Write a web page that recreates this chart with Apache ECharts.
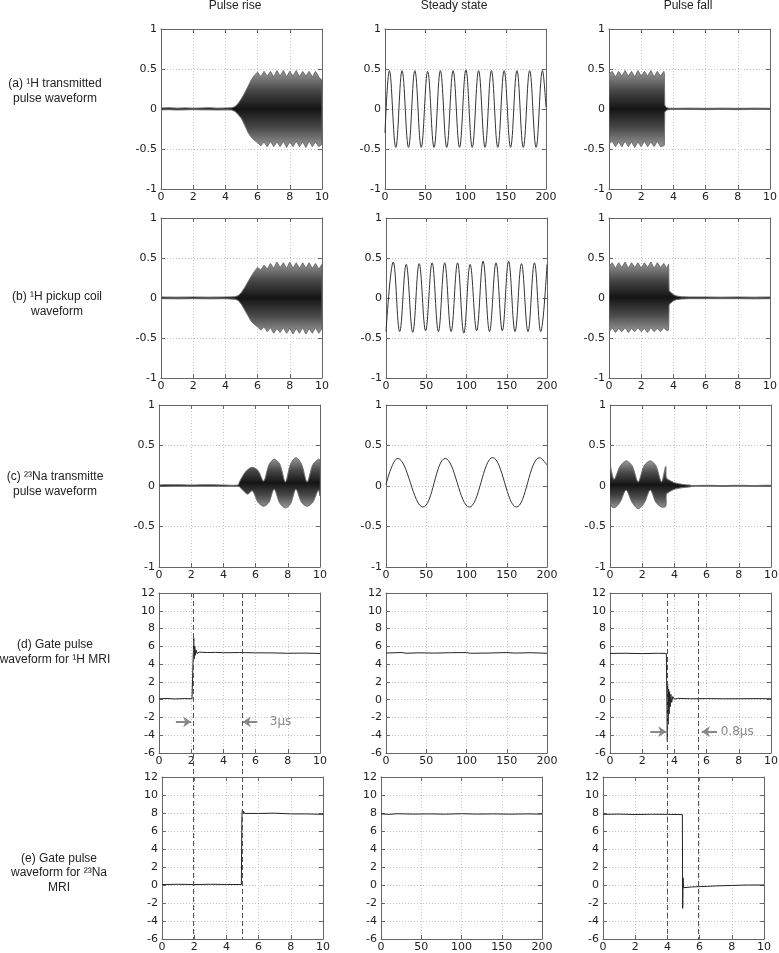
<!DOCTYPE html>
<html>
<head>
<meta charset="utf-8">
<title>Pulse waveforms</title>
<script src="https://cdn.jsdelivr.net/npm/echarts@6/dist/echarts.min.js"></script>
<style>
    html, body { margin: 0; padding: 0; background: #fff; }
    #chart { width: 779px; height: 953px; }
</style>
</head>
<body>
<div id="chart"></div>
<script>
// column / row texts
var colTitles = ['Pulse rise', 'Steady state', 'Pulse fall'];
var rowLabels = [
    '(a) ¹H transmitted\npulse waveform',
    '(b) ¹H pickup coil\nwaveform',
    '(c) ²³Na transmitte\npulse waveform',
    '(d) Gate pulse\nwaveform for ¹H MRI',
    '(e) Gate pulse\nwaveform for ²³Na\nMRI'
];

// dense RF bursts: [time, upper edge, lower edge]
var aRise = [[0,0.012,-0.01],[0.5,0.015,-0.008],[1,0.01,-0.012],[1.5,0.014,-0.01],[2,0.01,-0.008],[2.5,0.012,-0.01],
    [3,0.015,-0.01],[3.5,0.01,-0.012],[4,0.012,-0.01],[4.4,0.015,-0.012],[4.6,0.03,-0.03],[4.8,0.07,-0.07],
    [5.0,0.13,-0.12],[5.2,0.2,-0.2],[5.4,0.28,-0.29],[5.6,0.36,-0.35],[5.8,0.42,-0.39],[6.0,0.46,-0.42],
    [6.2,0.40,-0.46],[6.4,0.47,-0.41],[6.6,0.41,-0.47],[6.8,0.47,-0.40],[7.0,0.40,-0.47],[7.2,0.48,-0.41],
    [7.4,0.41,-0.47],[7.6,0.48,-0.40],[7.8,0.40,-0.48],[8.0,0.47,-0.41],[8.2,0.41,-0.47],[8.4,0.48,-0.40],
    [8.6,0.40,-0.47],[8.8,0.47,-0.41],[9.0,0.41,-0.48],[9.2,0.47,-0.40],[9.4,0.40,-0.47],[9.6,0.47,-0.41],
    [9.8,0.40,-0.47],[10,0.36,-0.44]];
var aFall = [[0,0.44,-0.44],[0.2,0.47,-0.40],[0.4,0.40,-0.47],[0.6,0.47,-0.41],[0.8,0.41,-0.47],[1.0,0.48,-0.40],
    [1.2,0.41,-0.47],[1.4,0.47,-0.41],[1.6,0.40,-0.48],[1.8,0.48,-0.41],[2.0,0.41,-0.47],[2.2,0.47,-0.40],
    [2.4,0.41,-0.47],[2.6,0.48,-0.41],[2.8,0.40,-0.47],[3.0,0.47,-0.40],[3.2,0.41,-0.47],[3.4,0.47,-0.46],
    [3.44,0.44,-0.45],[3.46,0.05,-0.04],[3.55,0.02,-0.015],[3.7,0.01,-0.008],[4,0.008,-0.006],[5,0.01,-0.006],
    [6,0.008,-0.008],[7,0.01,-0.006],[8,0.008,-0.008],[9,0.01,-0.006],[10,0.008,-0.006]];
var bRise = [[0,0.012,-0.008],[1,0.01,-0.01],[2,0.012,-0.008],[3,0.01,-0.01],[4,0.012,-0.008],[4.6,0.015,-0.015],
    [4.8,0.03,-0.03],[5.0,0.07,-0.08],[5.2,0.13,-0.15],[5.4,0.2,-0.22],[5.6,0.27,-0.29],[5.8,0.33,-0.33],
    [6.0,0.38,-0.36],[6.2,0.35,-0.40],[6.4,0.41,-0.36],[6.6,0.36,-0.42],[6.8,0.43,-0.37],[7.0,0.37,-0.44],
    [7.2,0.45,-0.38],[7.4,0.38,-0.43],[7.6,0.44,-0.37],[7.8,0.37,-0.44],[8.0,0.45,-0.38],[8.2,0.37,-0.45],
    [8.4,0.44,-0.38],[8.6,0.37,-0.44],[8.8,0.44,-0.37],[9.0,0.37,-0.45],[9.2,0.44,-0.38],[9.4,0.37,-0.44],
    [9.6,0.43,-0.37],[9.8,0.36,-0.44],[10,0.42,-0.38]];
var bFall = [[0,0.40,-0.43],[0.2,0.44,-0.37],[0.4,0.37,-0.43],[0.6,0.44,-0.38],[0.8,0.38,-0.42],[1.0,0.45,-0.37],
    [1.2,0.37,-0.43],[1.4,0.44,-0.38],[1.6,0.38,-0.42],[1.8,0.44,-0.37],[2.0,0.37,-0.42],[2.2,0.44,-0.38],
    [2.4,0.38,-0.43],[2.6,0.45,-0.37],[2.8,0.37,-0.42],[3.0,0.44,-0.38],[3.2,0.38,-0.42],[3.4,0.43,-0.37],
    [3.6,0.37,-0.41],[3.7,0.42,-0.40],[3.73,0.09,-0.08],[3.85,0.07,-0.06],[4.0,0.04,-0.035],[4.2,0.025,-0.02],
    [4.5,0.015,-0.012],[5,0.012,-0.008],[6,0.012,-0.008],[7,0.01,-0.008],[8,0.012,-0.008],[9,0.01,-0.01],
    [10,0.012,-0.008]];
var cRise = [[0,0.012,-0.005],[1,0.015,-0.004],[2,0.012,-0.005],[3,0.015,-0.004],[4,0.012,-0.005],[4.9,0.012,-0.005],
    [5.0,0.05,-0.01],[5.25,0.14,-0.06],[5.5,0.2,-0.1],[5.8,0.23,-0.06],[6.15,0.19,-0.2],[6.5,0.06,-0.25],
    [6.83,0.26,-0.2],[7.15,0.33,-0.04],[7.5,0.27,-0.21],[7.85,0.05,-0.27],[8.17,0.27,-0.22],[8.5,0.35,-0.04],
    [8.85,0.27,-0.2],[9.2,0.05,-0.25],[9.55,0.26,-0.2],[9.9,0.33,-0.05],[10,0.32,-0.12]];
var cFall = [[0,0.25,-0.22],[0.25,0.08,-0.27],[0.62,0.24,-0.2],[1.0,0.31,-0.05],[1.37,0.25,-0.2],[1.75,0.05,-0.28],
    [2.12,0.25,-0.21],[2.5,0.31,-0.05],[2.85,0.25,-0.2],[3.2,0.05,-0.26],[3.46,0.24,-0.25],[3.5,0.1,-0.1],
    [3.7,0.07,-0.07],[4.0,0.04,-0.04],[4.5,0.02,-0.02],[5.0,0.01,-0.01],[5.1,0.006,-0.004],[6,0.008,-0.004],
    [7,0.006,-0.006],[8,0.008,-0.004],[9,0.006,-0.006],[10,0.008,-0.004]];

// steady state sine: extremes [time, value]
var aSteady = [[0,-0.3],[5.5,0.48],[13.4,-0.48],[21.2,0.48],[29.2,-0.48],[37.1,0.48],[45,-0.48],[53,0.47],
    [60.9,-0.48],[68.8,0.48],[76.7,-0.48],[84.6,0.48],[92.6,-0.48],[100.5,0.49],[108.4,-0.48],[116.3,0.48],
    [124.3,-0.48],[132.2,0.48],[140.1,-0.48],[148,0.48],[156,-0.48],[163.9,0.48],[171.8,-0.48],[179.7,0.48],
    [187.7,-0.48],[195.6,0.48],[200,0.02]];
var bSteady = [[0,-0.42],[9,0.45],[17,-0.42],[25.1,0.42],[33.2,-0.43],[41.2,0.43],[49.2,-0.41],[57.3,0.44],
    [65.1,-0.42],[72.9,0.44],[80.9,-0.42],[88.9,0.44],[96.7,-0.44],[104.5,0.42],[112.6,-0.41],[120.6,0.46],
    [128.6,-0.42],[136.7,0.44],[144.5,-0.41],[152.3,0.46],[160.3,-0.42],[168.3,0.43],[176.4,-0.42],[184.4,0.44],
    [192.2,-0.42],[200,0.42]];
var cSteady = [[0,0.02],[14.5,0.34],[46,-0.26],[73.5,0.34],[103.5,-0.26],[132.5,0.35],[162,-0.26],[191,0.35],[200,0.26]];

// gate pulses [time, volts]
var dRise = [[0,0.1],[0.5,0.13],[1,0.08],[1.5,0.12],[2.05,0.1],[2.1,0.3],[2.13,5.2],[2.16,6.9],[2.19,4.6],
    [2.22,6.0],[2.26,5.0],[2.3,5.6],[2.36,5.2],[2.5,5.35],[3,5.3],[3.5,5.32],[4,5.28],[5,5.3],[6,5.27],
    [7,5.26],[8,5.22],[9,5.24],[10,5.2]];
var dSteady = [[0,5.25],[20,5.3],[25,5.22],[40,5.27],[60,5.24],[80,5.28],[100,5.3],[105,5.22],[130,5.25],
    [150,5.3],[160,5.24],[180,5.28],[200,5.22]];
var dFall = [[0,5.2],[1,5.22],[2,5.18],[3,5.22],[3.5,5.2],[3.54,5.0],[3.56,-4.7],[3.58,1.8],[3.61,-2.8],
    [3.64,1.2],[3.67,-1.6],[3.7,0.9],[3.74,-0.8],[3.78,0.6],[3.83,-0.3],[3.9,0.35],[4.0,0.05],[4.2,0.15],
    [5,0.1],[6,0.12],[7,0.1],[8,0.1],[9,0.12],[10,0.1]];
var eRise = [[0,0.05],[1,0.08],[2,0.05],[3,0.08],[4,0.06],[4.93,0.05],[4.96,7.5],[4.99,8.4],[5.03,7.9],
    [5.07,8.2],[5.12,7.95],[5.2,8.05],[6,7.95],[7,7.98],[8,7.9],[9,7.9],[10,7.85]];
var eSteady = [[0,7.9],[10,7.85],[20,7.92],[40,7.88],[60,7.9],[80,7.87],[100,7.92],[120,7.88],[140,7.9],
    [160,7.87],[180,7.9],[200,7.88]];
var eFall = [[0,7.85],[1,7.88],[2,7.83],[3,7.86],[4,7.85],[4.93,7.82],[4.95,-2.6],[4.97,0.8],[5.0,-0.3],
    [5.05,-0.15],[5.5,-0.22],[6,-0.18],[6.5,-0.15],[7,-0.1],[8,-0.05],[9,0.0],[10,0.0]];

// timing annotations on the gate rows
var dRiseArrows = [[1.05, 2.0, -2.5], [6.1, 5.2, -2.5]];
var dRiseNote = [7.55, -2.5, '3µs'];
var dFallArrows = [[2.5, 3.5, -3.6], [6.65, 5.7, -3.6]];
var dFallNote = [7.9, -3.6, '0.8µs'];
var gateDashes = [[0, 2.1], [0, 5.15], [2, 3.57], [2, 5.48]];   // [column, time on row (d)]

var panels = [
    {band: aRise}, {line: aSteady, smooth: 0.4}, {band: aFall},
    {band: bRise}, {line: bSteady, smooth: 0.4}, {band: bFall},
    {band: cRise, smooth: 0.3}, {line: cSteady, smooth: 0.4}, {band: cFall, smooth: 0.3},
    {line: dRise}, {line: dSteady}, {line: dFall},
    {line: eRise}, {line: eSteady}, {line: eFall}
];

// layout
var rowTop = [29, 218, 405, 593, 777];
var rowHeight = [160, 160, 162, 160, 162];
var colLeft = [[161, 385, 609], [161, 386, 609], [159, 386, 610], [159, 386, 610], [162, 381, 603]];
var plotWidth = 161;
var frame = '#666';

var chart = echarts.init(document.getElementById('chart'));

function bandFill() {
    return new echarts.graphic.LinearGradient(0, 0, 0, 1, [
        {offset: 0, color: '#9a9a9a'},
        {offset: 0.25, color: '#4a4a4a'},
        {offset: 0.5, color: '#141414'},
        {offset: 0.75, color: '#4a4a4a'},
        {offset: 1, color: '#9a9a9a'}
    ]);
}

function makeAxis(dim, i, pos, range, main) {
    return {
        type: 'value', gridIndex: i, position: pos,
        min: range[0], max: range[1], interval: range[2],
        axisLine: {show: true, onZero: false, lineStyle: {color: frame, width: 1}},
        axisTick: {show: true, inside: true, length: 4, lineStyle: {color: frame}},
        axisLabel: {show: main, margin: dim === 'x' ? 3 : 4, fontSize: 11, fontFamily: 'DejaVu Sans', color: '#222'},
        splitLine: {show: main, lineStyle: {color: '#c4c4c4', type: [1, 2], width: 1}}
    };
}

// the burst is drawn as one polygon: upper edge left to right, lower edge back
function bandSeries(i, band, smooth) {
    return {
        type: 'custom', xAxisIndex: 2 * i, yAxisIndex: 2 * i, silent: true, clip: true,
        data: [[0, 0]],
        renderItem: function (params, api) {
            var upper = band.map(function (d) { return api.coord([d[0], d[1]]); });
            var lower = band.slice().reverse().map(function (d) { return api.coord([d[0], d[2]]); });
            return {
                type: 'polygon',
                shape: {points: upper.concat(lower), smooth: smooth || 0},
                style: {fill: bandFill(), stroke: '#666', lineWidth: 0.6}
            };
        }
    };
}

var grids = [], xAxes = [], yAxes = [], series = [];

panels.forEach(function (p, i) {
    var row = Math.floor(i / 3), col = i % 3;
    var xr = col === 1 ? [0, 200, 50] : [0, 10, 2];
    var yr = row < 3 ? [-1, 1, 0.5] : [-6, 12, 2];
    grids.push({left: colLeft[row][col], top: rowTop[row], width: plotWidth, height: rowHeight[row],
        containLabel: false, outerBoundsMode: 'none'});
    xAxes.push(makeAxis('x', i, 'bottom', xr, true));
    xAxes.push(makeAxis('x', i, 'top', xr, false));
    yAxes.push(makeAxis('y', i, 'left', yr, true));
    yAxes.push(makeAxis('y', i, 'right', yr, false));

    if (p.band) {
        series.push(bandSeries(i, p.band, p.smooth));
        return;
    }
    var s = {
        type: 'line', xAxisIndex: 2 * i, yAxisIndex: 2 * i,
        symbol: 'none', showSymbol: false, silent: true, clip: true,
        smooth: p.smooth || false,
        lineStyle: {width: 1, color: row < 3 ? '#333' : '#222'},
        data: p.line
    };
    var arrows = null, note = null;
    if (p.line === dRise) { arrows = dRiseArrows; note = dRiseNote; }
    if (p.line === dFall) { arrows = dFallArrows; note = dFallNote; }
    if (arrows) {
        s.markLine = {
            silent: true, symbol: ['none', 'arrow'], symbolSize: 8,
            lineStyle: {color: '#888', width: 2, type: 'solid'},
            label: {show: false},
            data: arrows.map(function (a) {
                return [{coord: [a[0], a[2]]}, {coord: [a[1], a[2]]}];
            })
        };
        s.markPoint = {
            silent: true, symbol: 'circle', symbolSize: 1,
            itemStyle: {color: 'rgba(0,0,0,0)'},
            label: {show: true, position: 'inside', formatter: note[2], color: '#888',
                fontSize: 12, fontFamily: 'DejaVu Sans'},
            data: [{coord: [note[0], note[1]]}]
        };
    }
    series.push(s);
});

var titleX = [235, 454, 688];
var labelPos = [[55, 91], [57, 304], [55, 484], [55, 652], [59, 873]];
var texts = [];
colTitles.forEach(function (t, c) {
    texts.push({type: 'text', id: 'title' + c, x: titleX[c], y: 0, silent: true,
        style: {text: t, fill: '#222', font: '12px "Liberation Sans", Arial, sans-serif',
            align: 'center', verticalAlign: 'top'}});
});
rowLabels.forEach(function (t, r) {
    texts.push({type: 'text', id: 'row' + r, x: labelPos[r][0], y: labelPos[r][1], silent: true,
        style: {text: t, fill: '#222', font: '12px "Liberation Sans", Arial, sans-serif',
            align: 'center', verticalAlign: 'middle', lineHeight: 14.5}});
});

chart.setOption({
    animation: false,
    grid: grids,
    xAxis: xAxes,
    yAxis: yAxes,
    series: series,
    graphic: {elements: texts}
});

// dashed timing lines run from the top of row (d) down to the bottom of row (e)
var dashes = gateDashes.map(function (g, k) {
    var top = chart.convertToPixel({gridIndex: 9 + g[0]}, [g[1], 12]);
    var bottom = chart.convertToPixel({gridIndex: 12 + g[0]}, [0, -6]);
    var x = Math.round(top[0]) + 0.5;
    return {type: 'line', id: 'dash' + k, silent: true, z: 10,
        shape: {x1: x, y1: top[1], x2: x, y2: bottom[1]},
        style: {stroke: '#555', lineWidth: 1, lineDash: [5, 3]}};
});
chart.setOption({graphic: {elements: dashes}});
</script>
</body>
</html>
